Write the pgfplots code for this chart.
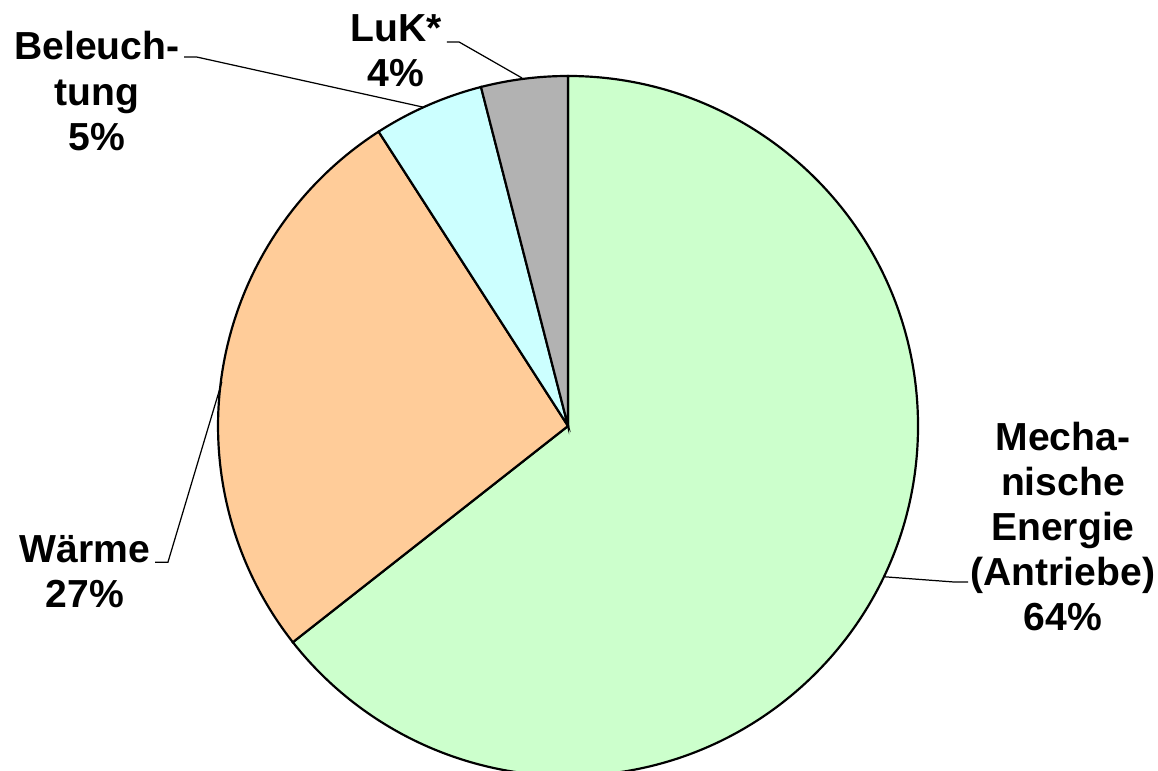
\documentclass[border=0pt]{standalone}
\usepackage{fontspec}
\setmainfont{Liberation Sans}
\usepackage{pgfplots}
\pgfplotsset{compat=1.18}

\definecolor{pieGreen}{HTML}{CCFFCC}
\definecolor{piePeach}{HTML}{FFCC99}
\definecolor{pieCyan}{HTML}{CCFFFF}
\definecolor{pieGray}{HTML}{B2B2B2}

\tikzset{lbl/.style={font=\fontsize{14.3}{16.5}\selectfont\bfseries, align=center}}

\begin{document}
\begin{tikzpicture}
\begin{axis}[
    hide axis,
    x=4.5cm, y=4.5cm,
    xmin=-1.6229, xmax=1.6857,
    ymin=-0.9857, ymax=1.2171,
    clip=true,
]
% shares in percent, clockwise from 12 o'clock
\def\startang{90}
\foreach \v/\c in {64.4/pieGreen, 26.5/piePeach, 5.1/pieCyan, 4.0/pieGray}{
    \pgfmathsetmacro{\endang}{\startang-3.6*\v}
    \edef\temp{\noexpand\fill[fill=\c, draw=black, line width=0.8pt]
        (axis cs:0,0) -- (axis cs:{cos(\startang)},{sin(\startang)})
        arc[start angle=\startang, end angle=\endang, radius=4.5cm] -- cycle;}
    \temp
    \global\let\startang\endang
}

% leader lines
\draw[line width=0.45pt] (axis cs:-0.346,1.097) -- (axis cs:-0.311,1.097) -- (axis cs:-0.131,0.994);
\draw[line width=0.45pt] (axis cs:-1.097,1.054) -- (axis cs:-1.060,1.054) -- (axis cs:-0.414,0.911);
\draw[line width=0.45pt] (axis cs:-1.180,-0.389) -- (axis cs:-1.143,-0.389) -- (axis cs:-0.989,0.126);
\draw[line width=0.45pt] (axis cs:0.906,-0.431) -- (axis cs:1.106,-0.446) -- (axis cs:1.143,-0.446);

% labels
\node[lbl] at (axis cs:1.414,-0.287) {Mecha-\\nische\\Energie\\(Antriebe)\\64\%};
\node[lbl] at (axis cs:-1.380,-0.416) {Wärme\\27\%};
\node[lbl] at (axis cs:-1.346,0.957) {Beleuch-\\tung\\5\%};
\node[lbl] at (axis cs:-0.491,1.073) {LuK*\\4\%};
\end{axis}
\pgfresetboundingbox
\useasboundingbox (current axis.south west) rectangle (current axis.north east);
\end{tikzpicture}
\end{document}
